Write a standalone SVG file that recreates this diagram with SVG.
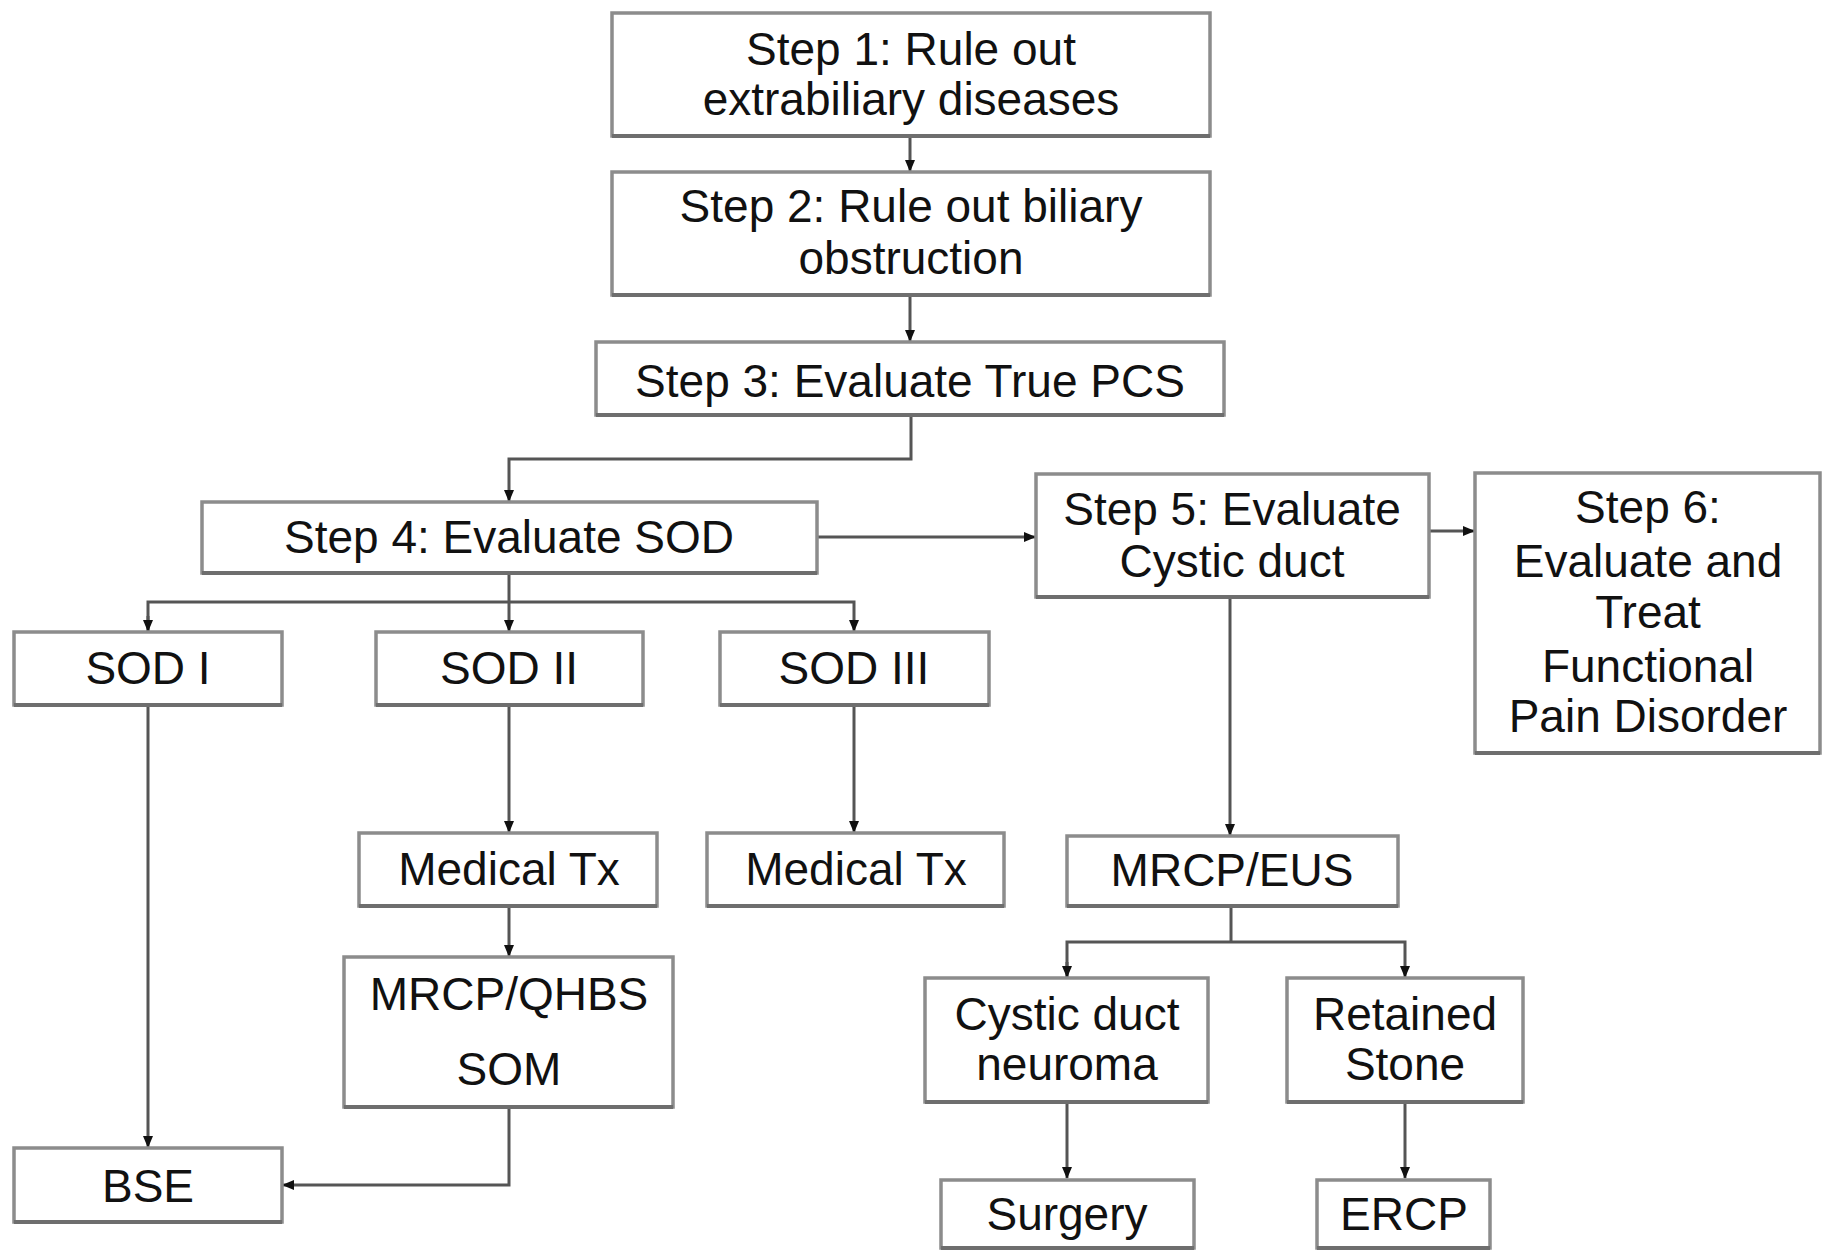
<svg xmlns="http://www.w3.org/2000/svg" width="1824" height="1250" viewBox="0 0 1824 1250">
<style>
.box{fill:#fff;stroke:#8c8c8c;stroke-width:3.5}
.sh{stroke:#6e6e6e;stroke-width:4;fill:none}
.t{font-family:"Liberation Sans",Arial,sans-serif;font-size:46px;fill:#111;text-anchor:middle}
.c{fill:none;stroke:#555;stroke-width:3}
</style>
<defs>
<marker id="ah" markerUnits="userSpaceOnUse" markerWidth="12" markerHeight="12" viewBox="0 0 12 12" refX="11" refY="6" orient="auto">
<path d="M0,1 L12,6 L0,11 Z" fill="#111"/>
</marker>
</defs>
<rect width="1824" height="1250" fill="#fff"/>
<g id="connectors">
<path class="c" d="M910 136 V171" marker-end="url(#ah)"/>
<path class="c" d="M910 295 V341" marker-end="url(#ah)"/>
<path class="c" d="M911 415 V459 H509 V501" marker-end="url(#ah)"/>
<path class="c" d="M817 537 H1035" marker-end="url(#ah)"/>
<path class="c" d="M1429 531 H1474" marker-end="url(#ah)"/>
<path class="c" d="M509 573 V631" marker-end="url(#ah)"/>
<path class="c" d="M148 631 V602 H854 V631" marker-end="url(#ah)"/>
<path class="c" d="M148 616 V631" marker-end="url(#ah)"/>
<path class="c" d="M148 705 V1147" marker-end="url(#ah)"/>
<path class="c" d="M509 705 V832" marker-end="url(#ah)"/>
<path class="c" d="M854 705 V832" marker-end="url(#ah)"/>
<path class="c" d="M509 906 V956" marker-end="url(#ah)"/>
<path class="c" d="M509 1107 V1185 H283" marker-end="url(#ah)"/>
<path class="c" d="M1230 597 V835" marker-end="url(#ah)"/>
<path class="c" d="M1067 977 V942 H1405 V977" marker-end="url(#ah)"/>
<path class="c" d="M1231 906 V942"/>
<path class="c" d="M1067 962 V977" marker-end="url(#ah)"/>
<path class="c" d="M1067 1102 V1178" marker-end="url(#ah)"/>
<path class="c" d="M1405 1102 V1178" marker-end="url(#ah)"/>
</g>
<g id="step1"><rect class="box" x="612" y="13" width="598" height="123"/><path class="sh" d="M612 136 H1210"/><text class="t" x="911" y="65">Step 1: Rule out</text><text class="t" x="911" y="115">extrabiliary diseases</text></g>
<g id="step2"><rect class="box" x="612" y="172" width="598" height="123"/><path class="sh" d="M612 295 H1210"/><text class="t" x="911" y="222">Step 2: Rule out biliary</text><text class="t" x="911" y="274">obstruction</text></g>
<g id="step3"><rect class="box" x="596" y="342" width="628" height="73"/><path class="sh" d="M596 415 H1224"/><text class="t" x="910" y="397">Step 3: Evaluate True PCS</text></g>
<g id="step4"><rect class="box" x="202" y="502" width="615" height="71"/><path class="sh" d="M202 573 H817"/><text class="t" x="509" y="553">Step 4: Evaluate SOD</text></g>
<g id="step5"><rect class="box" x="1036" y="474" width="393" height="123"/><path class="sh" d="M1036 597 H1429"/><text class="t" x="1232" y="525">Step 5: Evaluate</text><text class="t" x="1232" y="577">Cystic duct</text></g>
<g id="step6"><rect class="box" x="1475" y="473" width="345" height="280"/><path class="sh" d="M1475 753 H1820"/><text class="t" x="1648" y="523">Step 6:</text><text class="t" x="1648" y="577">Evaluate and</text><text class="t" x="1648" y="628">Treat</text><text class="t" x="1648" y="682">Functional</text><text class="t" x="1648" y="732">Pain Disorder</text></g>
<g id="sod1"><rect class="box" x="14" y="632" width="268" height="73"/><path class="sh" d="M14 705 H282"/><text class="t" x="148" y="684">SOD I</text></g>
<g id="sod2"><rect class="box" x="376" y="632" width="267" height="73"/><path class="sh" d="M376 705 H643"/><text class="t" x="509" y="684">SOD II</text></g>
<g id="sod3"><rect class="box" x="720" y="632" width="269" height="73"/><path class="sh" d="M720 705 H989"/><text class="t" x="854" y="684">SOD III</text></g>
<g id="medtx2"><rect class="box" x="359" y="833" width="298" height="73"/><path class="sh" d="M359 906 H657"/><text class="t" x="509" y="885">Medical Tx</text></g>
<g id="medtx3"><rect class="box" x="707" y="833" width="297" height="73"/><path class="sh" d="M707 906 H1004"/><text class="t" x="856" y="885">Medical Tx</text></g>
<g id="mrcpqhbs"><rect class="box" x="344" y="957" width="329" height="150"/><path class="sh" d="M344 1107 H673"/><text class="t" x="509" y="1010">MRCP/QHBS</text><text class="t" x="509" y="1085">SOM</text></g>
<g id="bse"><rect class="box" x="14" y="1148" width="268" height="74"/><path class="sh" d="M14 1222 H282"/><text class="t" x="148" y="1202">BSE</text></g>
<g id="mrcpeus"><rect class="box" x="1067" y="836" width="331" height="70"/><path class="sh" d="M1067 906 H1398"/><text class="t" x="1232" y="886">MRCP/EUS</text></g>
<g id="cystic"><rect class="box" x="925" y="978" width="283" height="124"/><path class="sh" d="M925 1102 H1208"/><text class="t" x="1067" y="1030">Cystic duct</text><text class="t" x="1067" y="1080">neuroma</text></g>
<g id="retained"><rect class="box" x="1287" y="978" width="236" height="124"/><path class="sh" d="M1287 1102 H1523"/><text class="t" x="1405" y="1030">Retained</text><text class="t" x="1405" y="1080">Stone</text></g>
<g id="surgery"><rect class="box" x="941" y="1180" width="253" height="68"/><path class="sh" d="M941 1248 H1194"/><text class="t" x="1067" y="1230">Surgery</text></g>
<g id="ercp"><rect class="box" x="1317" y="1180" width="173" height="68"/><path class="sh" d="M1317 1248 H1490"/><text class="t" x="1404" y="1230">ERCP</text></g>
</svg>
